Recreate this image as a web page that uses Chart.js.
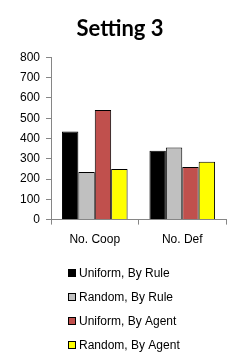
<!DOCTYPE html>
<html>
<head>
<meta charset="utf-8">
<script src="https://cdn.jsdelivr.net/npm/chart.js@4"></script>
<style>
  html, body { margin: 0; padding: 0; background: #fff; }
  #wrap { width: 242px; height: 364px; position: relative; }
</style>
</head>
<body>
<div id="wrap"><canvas id="barChart" width="242" height="364"></canvas></div>
<script>
const categories = ["No. Coop", "No. Def"];
const seriesNames = ["Uniform, By Rule", "Random, By Rule", "Uniform, By Agent", "Random, By Agent"];
const uniformByRule = [435, 340];
const randomByRule = [235, 355];
const uniformByAgent = [540, 260];
const randomByAgent = [250, 285];
const seriesColors = ["#000000", "#c0c0c0", "#c0504d", "#ffff00"];
const yTicks = [0, 100, 200, 300, 400, 500, 600, 700, 800];

const font = "'Liberation Sans', sans-serif";

// legend drawn as one column, like the original
const columnLegend = {
  id: "columnLegend",
  afterDraw(chart) {
    const ctx = chart.ctx;
    ctx.save();
    ctx.font = "12px " + font;
    ctx.textBaseline = "middle";
    chart.data.datasets.forEach((ds, i) => {
      const y = 273 + i * 24;
      ctx.fillStyle = ds.backgroundColor;
      ctx.fillRect(68, y - 4, 8, 8);
      ctx.strokeStyle = "#000";
      ctx.lineWidth = 1;
      ctx.strokeRect(68.5, y - 3.5, 7, 7);
      ctx.fillStyle = "#000";
      ctx.fillText(ds.label, 79, y + 1);
    });
    ctx.restore();
  },
};

const data = [uniformByRule, randomByRule, uniformByAgent, randomByAgent];

new Chart(document.getElementById("barChart"), {
  type: "bar",
  data: {
    labels: categories,
    datasets: seriesNames.map((name, i) => ({
      label: name,
      data: data[i],
      backgroundColor: seriesColors[i],
      borderColor: "#000",
      borderWidth: 1,
      categoryPercentage: 0.75,
      barPercentage: 1,
    })),
  },
  options: {
    responsive: false,
    animation: false,
    layout: { padding: { left: 14, right: 16, top: 0, bottom: 109 } },
    plugins: {
      legend: { display: false },
      tooltip: { enabled: false },
      title: {
        display: true,
        text: "Setting 3",
        color: "#000",
        font: { family: "Lato, sans-serif", size: 22, weight: "bold" },
        padding: { top: 16, bottom: 15 },
      },
    },
    scales: {
      y: {
        min: 0,
        max: 800,
        afterBuildTicks: (axis) => {
          axis.ticks = yTicks.map((v) => ({ value: v }));
        },
        ticks: { color: "#000", font: { family: font, size: 12 }, padding: 6 },
        grid: { drawOnChartArea: false, drawTicks: true, tickLength: 5, color: "#868686" },
        border: { display: true, color: "#868686" },
      },
      x: {
        ticks: { color: "#000", font: { family: font, size: 12 }, padding: 8 },
        grid: { drawOnChartArea: false, drawTicks: true, tickLength: 5, color: "#868686" },
        border: { display: true, color: "#868686" },
      },
    },
  },
  plugins: [columnLegend],
});
</script>
</body>
</html>
